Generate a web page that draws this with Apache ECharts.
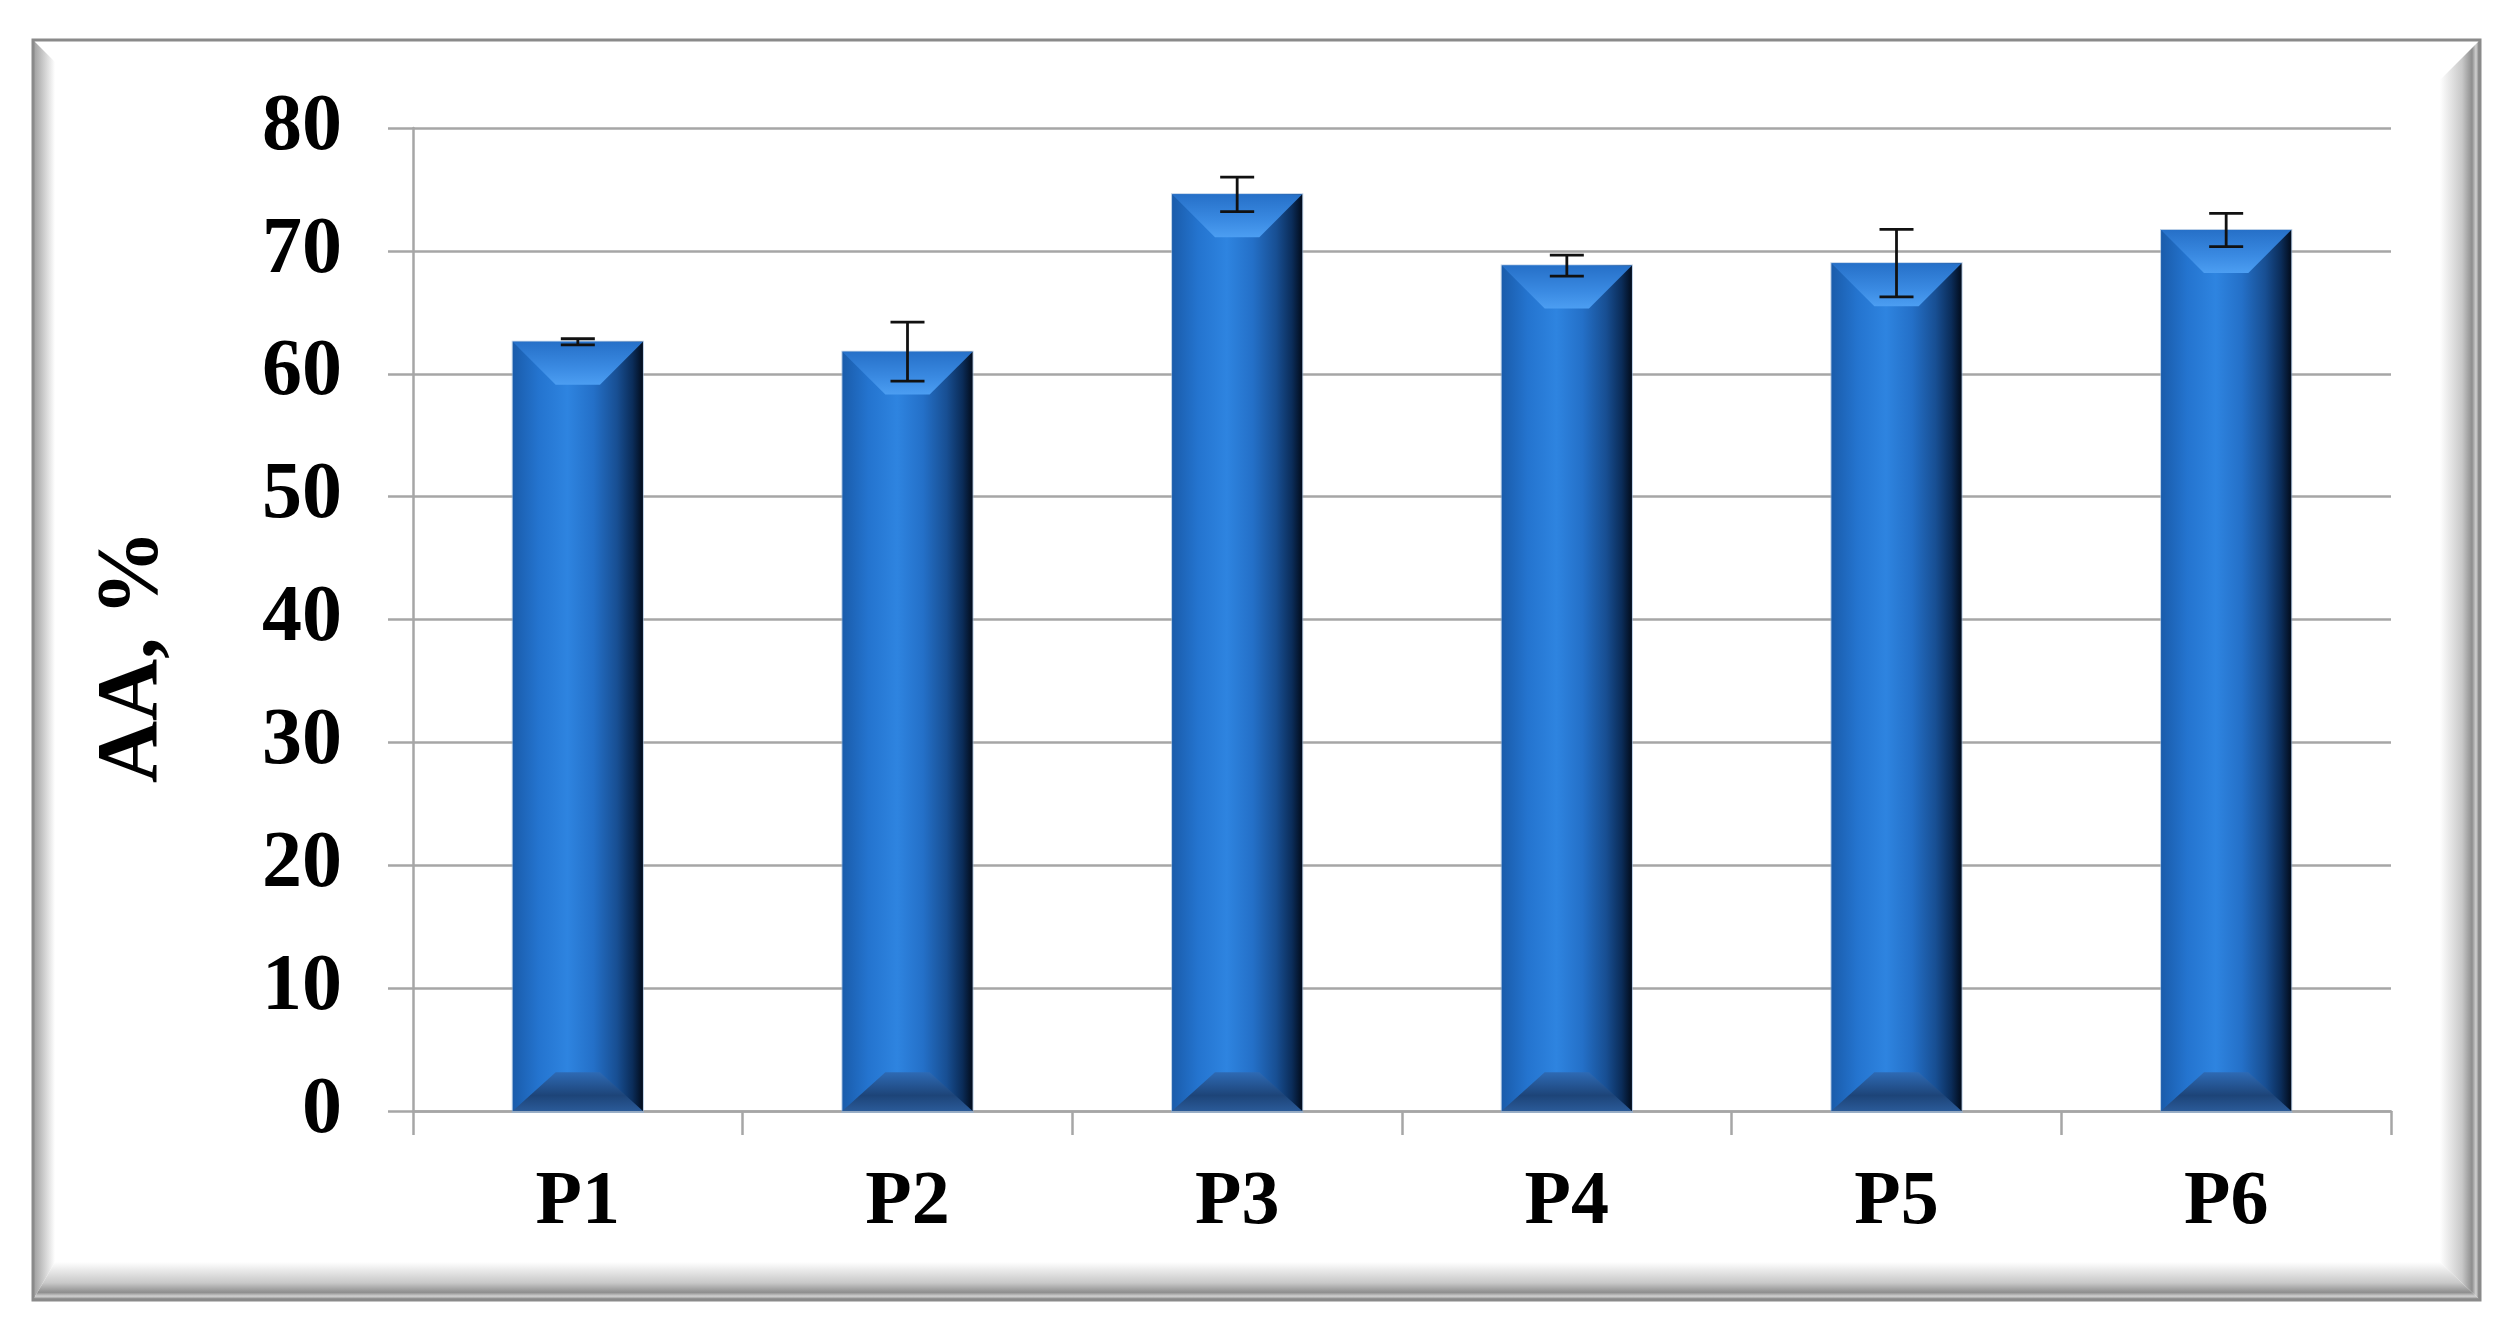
<!DOCTYPE html>
<html>
<head>
<meta charset="utf-8">
<script src="https://cdn.jsdelivr.net/npm/echarts@6/dist/echarts.min.js"></script>
<style>
  html, body { margin: 0; padding: 0; background: #ffffff; }
  #chart { width: 2507px; height: 1329px; }
</style>
</head>
<body>
<div id="chart"></div>
<script>
var categories = ['P1', 'P2', 'P3', 'P4', 'P5', 'P6'];
var values = [62.6, 61.8, 74.6, 68.8, 69.0, 71.7];
var errors = [0.25, 2.4, 1.4, 0.85, 2.75, 1.35];
var yTicks = { min: 0, max: 80, step: 10 };

var chartDom = document.getElementById('chart');
var myChart = echarts.init(chartDom);

var barData = values.map(function (v, i) { return [i, v]; });
var errData = values.map(function (v, i) { return [i, v - errors[i], v + errors[i]]; });

var sideGrad = new echarts.graphic.LinearGradient(0, 0, 1, 0, [
    { offset: 0, color: '#1a5cab' },
    { offset: 0.2, color: '#2474cf' },
    { offset: 0.42, color: '#2e84e0' },
    { offset: 0.62, color: '#2470c8' },
    { offset: 0.8, color: '#184f93' },
    { offset: 0.92, color: '#0b2d5a' },
    { offset: 1, color: '#020c1c' }
]);
var topGrad = new echarts.graphic.LinearGradient(0, 0, 0, 1, [
    { offset: 0, color: '#2670c8' },
    { offset: 0.6, color: '#3a8ae2' },
    { offset: 1, color: '#4c9ef2' }
]);
var botGrad = new echarts.graphic.LinearGradient(0, 0, 0, 1, [
    { offset: 0, color: '#2e6ab4' },
    { offset: 0.6, color: '#1d4478' },
    { offset: 1, color: '#2a5a98' }
]);

function renderBar(params, api) {
    var i = api.value(0), v = api.value(1);
    var top = api.coord([i, v]);
    var base = api.coord([i, 0]);
    var w = api.size([1, 0])[0] * 0.395;
    var x0 = top[0] - w / 2, x1 = top[0] + w / 2;
    var y0 = top[1], y1 = base[1];
    var d = Math.min(w * 0.33, (y1 - y0) / 2);
    return {
        type: 'group',
        children: [
            { type: 'rect', shape: { x: x0 - 1, y: y0 - 1, width: w + 2, height: y1 - y0 + 3 },
              style: { fill: 'rgba(140,175,215,0.6)' } },
            { type: 'rect', shape: { x: x0, y: y0, width: w, height: y1 - y0 }, style: { fill: sideGrad } },
            { type: 'polygon', shape: { points: [[x0, y0], [x1, y0], [x1 - d, y0 + d], [x0 + d, y0 + d]] },
              style: { fill: topGrad } },
            { type: 'polygon', shape: { points: [[x0, y1], [x1, y1], [x1 - d, y1 - d * 0.9], [x0 + d, y1 - d * 0.9]] },
              style: { fill: botGrad } }
        ]
    };
}

function renderErr(params, api) {
    var i = api.value(0);
    var lo = api.coord([i, api.value(1)]);
    var hi = api.coord([i, api.value(2)]);
    var cap = 17;
    var st = { stroke: '#111111', lineWidth: 2.8 };
    return {
        type: 'group',
        children: [
            { type: 'line', shape: { x1: lo[0], y1: lo[1], x2: hi[0], y2: hi[1] }, style: st },
            { type: 'line', shape: { x1: hi[0] - cap, y1: hi[1], x2: hi[0] + cap, y2: hi[1] }, style: st },
            { type: 'line', shape: { x1: lo[0] - cap, y1: lo[1], x2: lo[0] + cap, y2: lo[1] }, style: st }
        ]
    };
}

var L = 33, T = 40, R = 2480, B = 1300;
var frame = [
    { type: 'polygon', silent: true, z: -10,
      shape: { points: [[L, T], [L + 22, T + 22], [L + 22, B - 38], [L, B]] },
      style: { fill: new echarts.graphic.LinearGradient(0, 0, 1, 0, [
          { offset: 0, color: '#9c9c9c' }, { offset: 1, color: '#ffffff' }]) } },
    { type: 'polygon', silent: true, z: -10,
      shape: { points: [[L, B], [L + 22, B - 38], [R - 40, B - 38], [R, B]] },
      style: { fill: new echarts.graphic.LinearGradient(0, 0, 0, 1, [
          { offset: 0, color: '#ffffff' }, { offset: 0.55, color: '#c8c8c8' },
          { offset: 0.8, color: '#8e8e8e' }, { offset: 0.9, color: '#d0d0d0' }, { offset: 1, color: '#7a7a7a' }]) } },
    { type: 'polygon', silent: true, z: -10,
      shape: { points: [[R, T], [R - 40, T + 40], [R - 40, B - 38], [R, B]] },
      style: { fill: new echarts.graphic.LinearGradient(0, 0, 1, 0, [
          { offset: 0, color: '#ffffff' }, { offset: 0.55, color: '#c8c8c8' },
          { offset: 0.8, color: '#8e8e8e' }, { offset: 0.9, color: '#d0d0d0' }, { offset: 1, color: '#6e6e6e' }]) } },
    { type: 'rect', silent: true, z: -9,
      shape: { x: L, y: T, width: R - L, height: B - T },
      style: { fill: 'none', stroke: '#8a8a8a', lineWidth: 3 } }
];

option = {
    backgroundColor: '#ffffff',
    animation: false,
    graphic: frame,
    grid: { left: 413, right: 116, top: 128, bottom: 218 },
    xAxis: {
        type: 'category',
        data: categories,
        axisLine: { lineStyle: { color: '#a6a6a6', width: 2.5 } },
        axisTick: { show: true, length: 24, lineStyle: { color: '#a6a6a6', width: 2.5 } },
        axisLabel: {
            margin: 54,
            color: '#000000',
            fontFamily: 'Liberation Serif',
            fontWeight: 'bold',
            fontSize: 76
        }
    },
    yAxis: {
        type: 'value',
        min: yTicks.min,
        max: yTicks.max,
        interval: yTicks.step,
        name: 'AA, %',
        nameLocation: 'middle',
        nameGap: 236,
        nameRotate: 90,
        nameTextStyle: {
            color: '#000000',
            fontFamily: 'Liberation Serif',
            fontWeight: 'bold',
            fontSize: 86,
            padding: [0, 74, 0, 0]
        },
        axisLine: { show: true, lineStyle: { color: '#a6a6a6', width: 2.5 } },
        axisTick: { show: true, length: 25, lineStyle: { color: '#a6a6a6', width: 2.5 } },
        splitLine: { lineStyle: { color: '#a6a6a6', width: 2.5 } },
        axisLabel: {
            margin: 71,
            color: '#000000',
            fontFamily: 'Liberation Serif',
            fontWeight: 'bold',
            fontSize: 80
        }
    },
    series: [
        {
            name: 'AA',
            type: 'custom',
            renderItem: renderBar,
            encode: { x: 0, y: 1 },
            data: barData,
            z: 3
        },
        {
            name: 'error',
            type: 'custom',
            renderItem: renderErr,
            encode: { x: 0, y: [1, 2] },
            data: errData,
            z: 4
        }
    ]
};

myChart.setOption(option);
</script>
</body>
</html>
